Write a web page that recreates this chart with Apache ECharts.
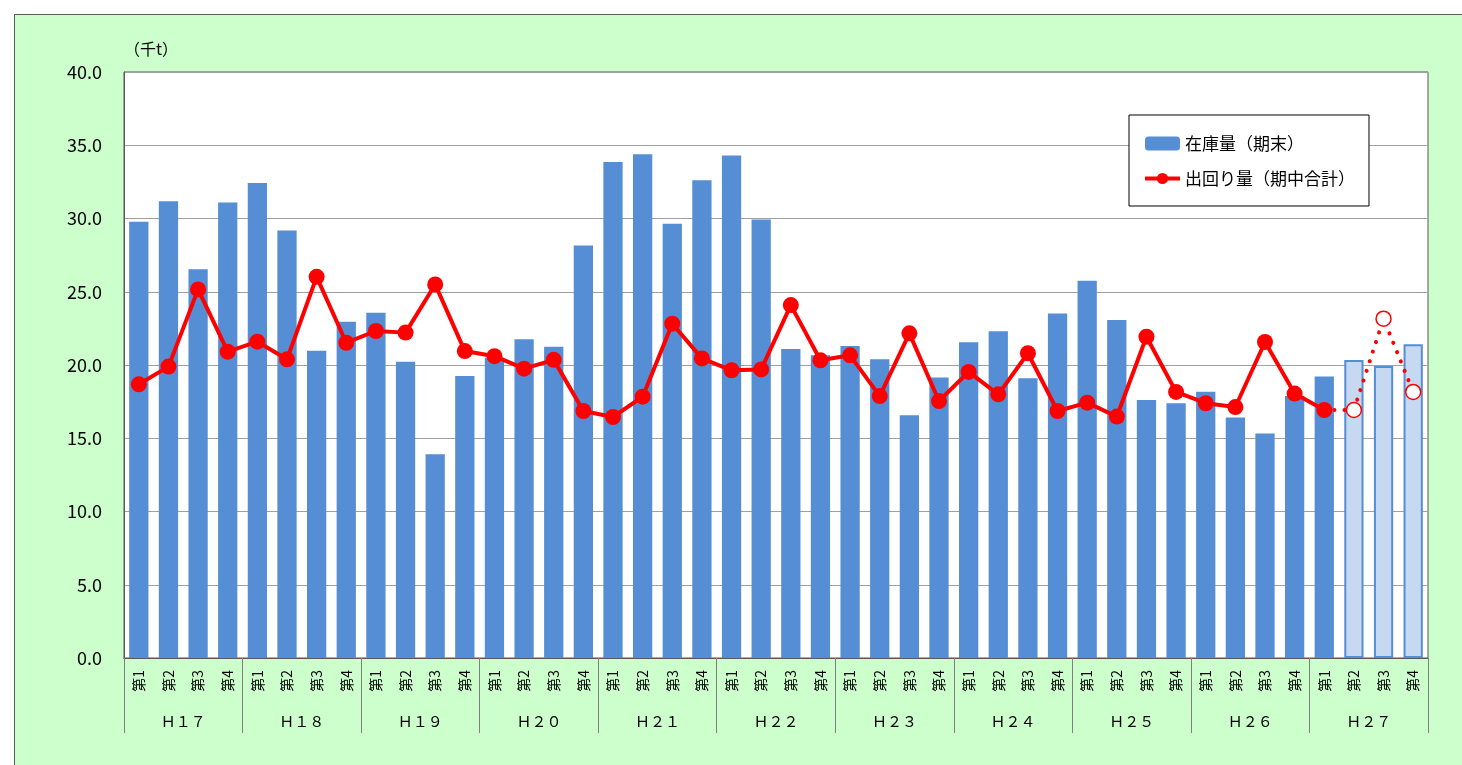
<!DOCTYPE html>
<html>
<head>
<meta charset="utf-8">
<script src="https://cdn.jsdelivr.net/npm/echarts@6/dist/echarts.min.js"></script>
<style>
html, body { margin: 0; padding: 0; background: #fff; overflow: hidden; }
#frame { position: absolute; left: 14px; top: 14px; width: 1460px; height: 760px; border: 1px solid #595959; background: #CCFFCC; }
#chart { width: 1460px; height: 760px; }
</style>
</head>
<body>
<div id="frame"><div id="chart"></div></div>
<script>
const years = ['Ｈ１７', 'Ｈ１８', 'Ｈ１９', 'Ｈ２０', 'Ｈ２１', 'Ｈ２２', 'Ｈ２３', 'Ｈ２４', 'Ｈ２５', 'Ｈ２６', 'Ｈ２７'];
const quarters = ['第1', '第2', '第3', '第4'];

// 在庫量（期末）
const stock = [
    29.77, 31.18, 26.54, 31.09,
    32.43, 29.18, 20.98, 22.96,
    23.57, 20.23, 13.91, 19.25,
    20.5, 21.75, 21.25, 28.15,
    33.86, 34.38, 29.64, 32.61,
    34.3, 29.93, 21.09, 20.66,
    21.3, 20.4, 16.57, 19.14,
    21.55, 22.3, 19.09, 23.52,
    25.75, 23.07, 17.61, 17.39,
    18.18, 16.41, 15.32, 17.88,
    19.21, 20.34, 19.93, 21.41
];

// 出回り量（期中合計）
const shipped = [
    18.68, 19.89, 25.16, 20.91,
    21.59, 20.39, 26.02, 21.52,
    22.32, 22.21, 25.5, 20.95,
    20.6, 19.75, 20.35, 16.86,
    16.45, 17.84, 22.82, 20.45,
    19.64, 19.7, 24.09, 20.32,
    20.66, 17.88, 22.16, 17.54,
    19.53, 18.0, 20.8, 16.86,
    17.43, 16.48, 21.93, 18.16,
    17.39, 17.13, 21.57, 18.05,
    16.93
];

// 見込み（H27 第2〜第4）
const shippedForecast = [16.93, 23.16, 18.16];
const forecastFrom = 41;

const yTicks = { min: 0, max: 40, interval: 5 };

let cats = [];
years.forEach(function(y){
    quarters.forEach(function(q){ cats.push(q); });
});

const font = '"Noto Sans CJK JP", "Noto Sans", sans-serif';

let barData = stock.map(function(v, i){
    if (i >= forecastFrom){
        return { value: v, itemStyle: { color: '#C6D9F1', borderColor: '#558ED5', borderWidth: 2 } };
    }
    return v;
});

// dotted part starts from the last actual point
let dotData = cats.map(function(c, i){
    if (i == forecastFrom - 1) return { value: shipped[i], symbol: 'none' };
    if (i >= forecastFrom) return shippedForecast[i - forecastFrom];
    return null;
});

let myChart = echarts.init(document.getElementById('chart'));
myChart.setOption({
    animation: false,
    textStyle: { fontFamily: font },
    title: {
        text: '（千t）', left: 104, top: 21,
        textStyle: { fontSize: 16, fontWeight: 'normal', color: '#000', fontFamily: font }
    },
    grid: {
        left: 109, top: 57, width: 1304, height: 586,
        show: true, backgroundColor: '#fff', borderColor: '#595959', borderWidth: 1
    },
    legend: {
        data: [
            { name: '在庫量（期末）' },
            { name: '出回り量（期中合計）', lineStyle: { width: 4 } }
        ],
        orient: 'vertical', left: 1114, top: 100,
        backgroundColor: '#fff', borderColor: '#000', borderWidth: 1,
        padding: [20, 14, 19, 14], itemGap: 18,
        itemWidth: 35, itemHeight: 14,
        textStyle: { fontSize: 17, color: '#000', fontFamily: font }
    },
    xAxis: [{
        type: 'category', data: cats,
        axisLine: { lineStyle: { color: '#595959', width: 1 } },
        axisTick: { show: false },
        axisLabel: { rotate: 90, margin: 12, fontSize: 14, color: '#000', interval: 0, fontFamily: font }
    }, {
        type: 'category', data: years, position: 'bottom',
        axisLine: { show: true, lineStyle: { color: '#595959', width: 1 } },
        axisTick: { show: true, interval: 0, length: 75, lineStyle: { color: '#808080' } },
        axisLabel: { margin: 56, fontSize: 15, color: '#000', interval: 0, fontFamily: font }
    }],
    yAxis: {
        type: 'value', min: yTicks.min, max: yTicks.max, interval: yTicks.interval,
        axisLine: { show: true, lineStyle: { color: '#595959' } },
        axisTick: { show: false },
        splitLine: { lineStyle: { color: '#A0A0A0', width: 1 } },
        axisLabel: {
            margin: 22, fontSize: 18, color: '#000', fontFamily: font,
            formatter: function(v){ return v.toFixed(1); }
        }
    },
    series: [{
        name: '在庫量（期末）', type: 'bar', data: barData,
        barWidth: '65%',
        itemStyle: { color: '#558ED5' }
    }, {
        name: '出回り量（期中合計）', type: 'line', data: shipped,
        symbol: 'circle', symbolSize: 16,
        lineStyle: { color: '#FF0000', width: 4 },
        itemStyle: { color: '#FF0000' },
        z: 5
    }, {
        name: '出回り量見込', type: 'line', data: dotData,
        symbol: 'circle', symbolSize: 15,
        lineStyle: { color: '#FF0000', width: 4, type: [0.1, 10], cap: 'round' },
        itemStyle: { color: '#fff', borderColor: '#FF0000', borderWidth: 1.5 },
        z: 4
    }]
});
</script>
</body>
</html>
